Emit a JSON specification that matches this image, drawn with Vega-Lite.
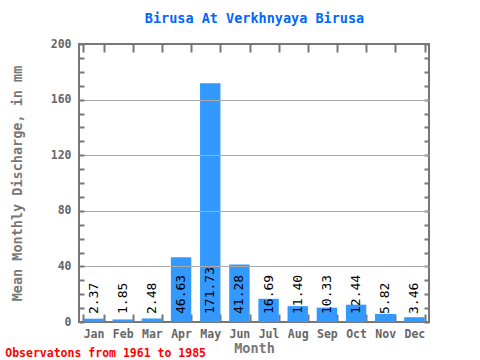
{
  "$schema": "https://vega.github.io/schema/vega-lite/v6.json",
  "width": 350,
  "height": 278,
  "padding": {"left": 5, "top": 11, "right": 5, "bottom": 5},
  "title": {
    "text": "Observatons from 1961 to 1985",
    "orient": "bottom",
    "anchor": "start",
    "frame": "bounds",
    "font": "DejaVu Sans Mono",
    "fontSize": 11.5,
    "fontWeight": "bold",
    "color": "#ff0000",
    "dx": -5,
    "dy": -7,
    "offset": 0
  },
  "config": {
    "view": {"stroke": "#777777", "strokeWidth": 2},
    "font": "DejaVu Sans Mono"
  },
  "data": {
    "values": [
      {"month": "Jan", "value": 2.37},
      {"month": "Feb", "value": 1.85},
      {"month": "Mar", "value": 2.48},
      {"month": "Apr", "value": 46.63},
      {"month": "May", "value": 171.73},
      {"month": "Jun", "value": 41.28},
      {"month": "Jul", "value": 16.69},
      {"month": "Aug", "value": 11.40},
      {"month": "Sep", "value": 10.33},
      {"month": "Oct", "value": 12.44},
      {"month": "Nov", "value": 5.82},
      {"month": "Dec", "value": 3.46}
    ]
  },
  "layer": [
    {
      "mark": {"type": "bar", "color": "#3399ff"},
      "encoding": {
        "x": {
          "field": "month", "type": "nominal", "sort": null,
          "scale": {"paddingInner": 0.3, "paddingOuter": 0.15},
          "axis": {
            "orient": "bottom", "tickBand": "extent", "tickSize": -8, "tickColor": "#777777", "tickWidth": 2,
            "domain": false, "labelAngle": 0, "labelColor": "#666666", "labelFontSize": 11.5, "labelFontWeight": "bold",
            "labelPadding": 14, "title": "Month", "titleColor": "#777777", "titleFontSize": 13.5, "titleFontWeight": "bold", "titlePadding": 2
          }
        },
        "y": {
          "field": "value", "type": "quantitative",
          "scale": {"domain": [0, 200], "nice": false},
          "axis": {
            "orient": "left",
            "values": [0,10,20,30,40,50,60,70,80,90,100,110,120,130,140,150,160,170,180,190,200],
            "labelExpr": "datum.value % 40 === 0 ? datum.label : ''",
            "domain": false,
            "grid": true,
            "gridColor": {"condition": {"test": "datum.value % 40 === 0 && datum.value > 0 && datum.value < 200", "value": "#aaaaaa"}, "value": "transparent"},
            "gridWidth": 1,
            "tickColor": "#777777", "tickWidth": 2, "tickSize": -5,
            "labelColor": "#666666", "labelFontSize": 11.5, "labelFontWeight": "bold", "labelPadding": 13,
            "title": "Mean Monthly Discharge, in mm", "titleColor": "#777777", "titleFontSize": 13.5, "titleFontWeight": "bold", "titlePadding": 26,
            "zindex": 1
          }
        }
      }
    },
    {
      "mark": {"type": "text", "angle": 270, "align": "left", "baseline": "middle", "dx": 8, "fontSize": 13, "color": "#000000"},
      "encoding": {
        "x": {"field": "month", "type": "nominal", "sort": null, "axis": null},
        "y": {"datum": 0, "type": "quantitative", "axis": null},
        "text": {"field": "value", "type": "quantitative", "format": ".2f"}
      }
    },
    {
      "mark": {"type": "bar", "opacity": 0},
      "encoding": {
        "x": {
          "field": "month", "type": "nominal", "sort": null,
          "axis": {
            "orient": "top", "tickBand": "extent", "tickSize": -8, "tickColor": "#777777", "tickWidth": 2,
            "domain": false, "labels": false,
            "title": "Birusa At Verkhnyaya Birusa", "titleColor": "#0066ff", "titleFontSize": 13.5, "titleFontWeight": "bold", "titlePadding": 18
          }
        },
        "y": {
          "field": "value", "type": "quantitative",
          "axis": {
            "orient": "right",
            "values": [0,10,20,30,40,50,60,70,80,90,100,110,120,130,140,150,160,170,180,190,200],
            "labels": false, "domain": false, "grid": false,
            "tickColor": "#777777", "tickWidth": 2, "tickSize": -5,
            "title": null
          }
        }
      }
    }
  ],
  "resolve": {"axis": {"x": "independent", "y": "independent"}}
}
